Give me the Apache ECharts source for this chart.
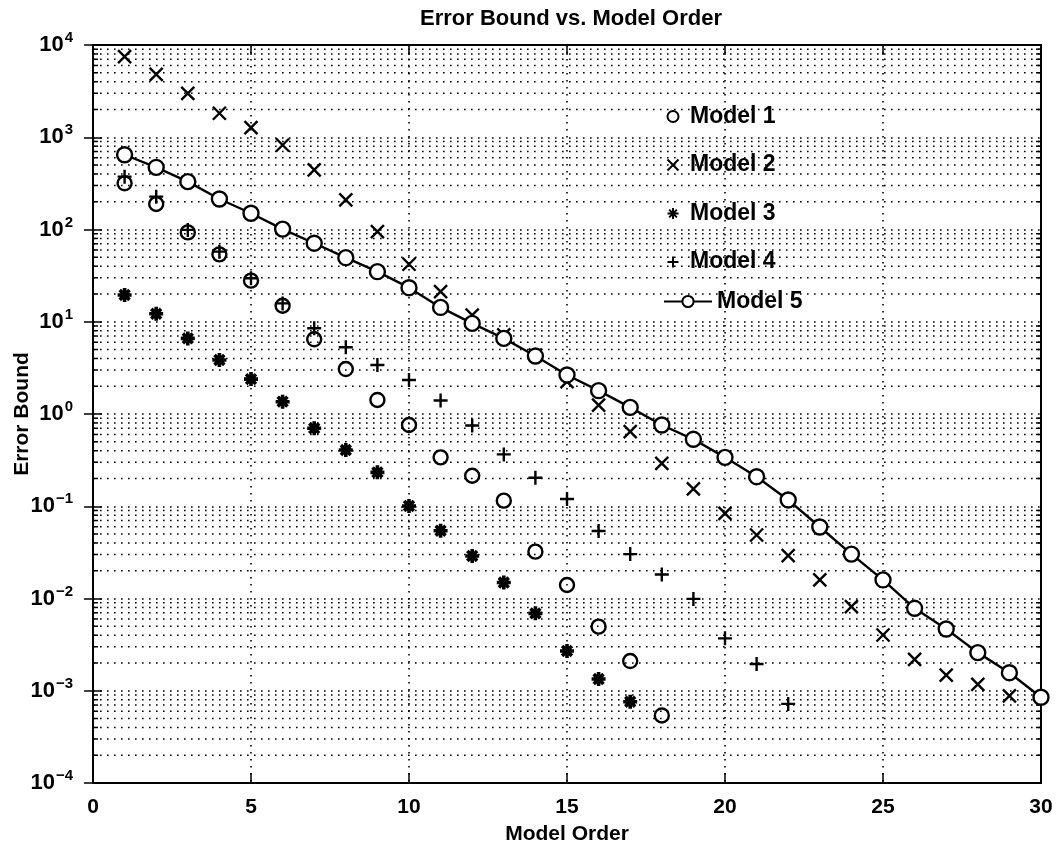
<!DOCTYPE html>
<html>
<head>
<meta charset="utf-8">
<script src="https://cdn.jsdelivr.net/npm/echarts@6/dist/echarts.min.js"></script>
<style>
  html, body { margin: 0; padding: 0; background: #fff; }
  #main { width: 1062px; height: 851px; }
</style>
</head>
<body>
<div id="main"></div>
<script>
// model order on the x axis
var orders = [1, 2, 3, 4, 5, 6, 7, 8, 9, 10, 11, 12, 13, 14, 15, 16, 17, 18, 19, 20,
              21, 22, 23, 24, 25, 26, 27, 28, 29, 30];

// error bounds, starting at order 1
var model1 = [317, 189, 93, 53.8, 27.9, 14.9, 6.45, 3.07, 1.42, 0.76, 0.339, 0.214, 0.115,
              0.0322, 0.014, 0.00495, 0.0021, 0.00054];
var model2 = [7470, 4810, 2990, 1820, 1270, 824, 442, 209, 94.7, 42, 21.2, 11.8, 7.2, 4.36,
              2.24, 1.25, 0.644, 0.292, 0.154, 0.0838, 0.0488, 0.0291, 0.0159, 0.00815,
              0.00402, 0.00219, 0.00148, 0.00117, 0.00088];
var model3 = [19.5, 12.2, 6.6, 3.85, 2.39, 1.36, 0.70, 0.407, 0.233, 0.1007, 0.0543, 0.0289,
              0.0149, 0.0069, 0.0027, 0.00134, 0.00076];
var model4 = [374, 227, 99, 57.5, 29.6, 15.8, 8.5, 5.3, 3.4, 2.34, 1.40, 0.75, 0.365, 0.204,
              0.12, 0.054, 0.0303, 0.0182, 0.0099, 0.0037, 0.00195, 0.00072];
var model5 = [646, 472, 330, 214, 150, 101, 71, 49.5, 34.9, 23.4, 14.3, 9.6, 6.6, 4.25, 2.65,
              1.79, 1.18, 0.76, 0.532, 0.339, 0.209, 0.117, 0.0596, 0.0303, 0.0159, 0.00783,
              0.00467, 0.00259, 0.00157, 0.00085];

// axis ticks
var xTicks = [0, 5, 10, 15, 20, 25, 30];
var decadeExps = [-4, -3, -2, -1, 0, 1, 2, 3];
var minorMults = [2, 3, 4, 5, 6, 7, 8, 9];

var FONT = 'Liberation Sans';
var dotted = [1.6, 5.4];

function pairs(vals) {
    return vals.map(function (v, i) { return [orders[i], v]; });
}

// minor log grid positions (2..9 times each decade)
var minorRows = [];
decadeExps.forEach(function (e) {
    minorMults.forEach(function (m) {
        minorRows.push([xTicks[0], m * Math.pow(10, e)]);
    });
});

var symX = 'path://M0,0L10,10M10,0L0,10';
var symPlus = 'path://M5,0L5,10M0,5L10,5';
var symStar = 'path://M5,0L5,10M0,5L10,5M1.5,1.5L8.5,8.5M8.5,1.5L1.5,8.5';

var markStyle = { color: 'none', borderColor: '#000', borderWidth: 2.4, opacity: 1 };

var myChart = echarts.init(document.getElementById('main'));
var option = {
    backgroundColor: '#fff',
    animation: false,
    title: {
        text: 'Error Bound vs. Model Order',
        left: 566,
        textAlign: 'center',
        top: 3,
        textStyle: { fontFamily: FONT, fontSize: 22, fontWeight: 'bold', color: '#000' }
    },
    legend: [{
        orient: 'vertical',
        left: 660,
        top: 100,
        itemWidth: 24,
        itemHeight: 11,
        itemGap: 25.5,
        textStyle: { fontFamily: FONT, fontSize: 23, fontWeight: 'bold', color: '#000', lineHeight: 22 },
        data: ['Model 1', 'Model 2', 'Model 3', 'Model 4']
    }, {
        orient: 'vertical',
        left: 658,
        top: 285,
        itemWidth: 48,
        itemHeight: 14,
        textStyle: { fontFamily: FONT, fontSize: 23, fontWeight: 'bold', color: '#000', lineHeight: 22 },
        data: ['Model 5']
    }],
    grid: {
        left: 93, right: 21, top: 45, bottom: 68,
        outerBoundsMode: 'none',
        containLabel: false,
        show: true, borderColor: '#000', borderWidth: 2
    },
    xAxis: [{
        type: 'value',
        min: 0, max: 30, interval: 5,
        name: 'Model Order',
        nameLocation: 'middle',
        nameGap: 41,
        nameMoveOverlap: false,
        nameTextStyle: { fontFamily: FONT, fontSize: 21, fontWeight: 'bold', color: '#000' },
        axisLine: { lineStyle: { color: '#000', width: 2 } },
        axisTick: { inside: true, length: 10, lineStyle: { color: '#000', width: 1.5 } },
        axisLabel: { margin: 14, fontFamily: FONT, fontSize: 21, fontWeight: 'bold', color: '#000' },
        splitLine: { show: true, lineStyle: { color: '#000', width: 1.6, type: dotted } }
    }, {
        type: 'value',
        position: 'top',
        min: 0, max: 30, interval: 5,
        axisLine: { lineStyle: { color: '#000', width: 2 } },
        axisTick: { inside: true, length: 10, lineStyle: { color: '#000', width: 1.5 } },
        axisLabel: { show: false },
        splitLine: { show: false }
    }],
    yAxis: [{
        type: 'log',
        logBase: 10,
        min: 1e-4, max: 1e4,
        name: 'Error Bound',
        nameLocation: 'middle',
        nameGap: 60,
        nameMoveOverlap: false,
        nameTextStyle: { fontFamily: FONT, fontSize: 21, fontWeight: 'bold', color: '#000' },
        axisLine: { lineStyle: { color: '#000', width: 2 } },
        axisTick: { inside: true, length: 9, lineStyle: { color: '#000', width: 1.5 } },
        axisLabel: {
            margin: 20,
            formatter: function (v) {
                var e = Math.round(Math.log10(v));
                return '{b|10}{e|' + (e < 0 ? '\u2212' + (-e) : e) + '}';
            },
            rich: {
                b: { fontFamily: FONT, fontSize: 22, fontWeight: 'bold', color: '#000' },
                e: { fontFamily: FONT, fontSize: 15, fontWeight: 'bold', color: '#000', padding: [0, 0, 14, 1] }
            }
        },
        splitLine: { show: true, lineStyle: { color: '#000', width: 1.6, type: dotted } }
    }, {
        type: 'log',
        logBase: 10,
        position: 'right',
        min: 1e-4, max: 1e4,
        axisLine: { lineStyle: { color: '#000', width: 2 } },
        axisTick: { inside: true, length: 9, lineStyle: { color: '#000', width: 1.5 } },
        axisLabel: { show: false },
        splitLine: { show: false }
    }],
    series: [{
        // minor log grid lines and the small inside ticks on both sides
        type: 'custom',
        silent: true,
        z: 1,
        data: minorRows,
        renderItem: function (params, api) {
            var v = api.value(1);
            var p0 = api.coord([xTicks[0], v]);
            var p1 = api.coord([xTicks[xTicks.length - 1], v]);
            var st = { stroke: '#000', lineWidth: 1.5 };
            return {
                type: 'group',
                children: [{
                    type: 'line',
                    shape: { x1: p0[0], y1: p0[1], x2: p1[0], y2: p1[1] },
                    style: { stroke: '#000', lineWidth: 1.6, lineDash: dotted }
                }, {
                    type: 'line',
                    shape: { x1: p0[0], y1: p0[1], x2: p0[0] + 5, y2: p0[1] },
                    style: st
                }, {
                    type: 'line',
                    shape: { x1: p1[0] - 5, y1: p1[1], x2: p1[0], y2: p1[1] },
                    style: st
                }]
            };
        }
    }, {
        name: 'Model 1',
        type: 'scatter',
        symbol: 'circle',
        symbolSize: 14,
        itemStyle: markStyle,
        data: pairs(model1),
        z: 3
    }, {
        name: 'Model 2',
        type: 'scatter',
        symbol: symX,
        symbolSize: 13,
        itemStyle: markStyle,
        data: pairs(model2),
        z: 3
    }, {
        name: 'Model 3',
        type: 'scatter',
        symbol: symStar,
        symbolSize: 14,
        itemStyle: { color: 'none', borderColor: '#000', borderWidth: 3.6, opacity: 1 },
        data: pairs(model3),
        z: 3
    }, {
        name: 'Model 4',
        type: 'scatter',
        symbol: symPlus,
        symbolSize: 14,
        itemStyle: markStyle,
        data: pairs(model4),
        z: 3
    }, {
        name: 'Model 5',
        type: 'line',
        symbol: 'circle',
        symbolSize: 15,
        showAllSymbol: true,
        itemStyle: { color: '#fff', borderColor: '#000', borderWidth: 2.4 },
        lineStyle: { color: '#000', width: 2.4 },
        data: pairs(model5),
        z: 4
    }]
};
myChart.setOption(option);
</script>
</body>
</html>
